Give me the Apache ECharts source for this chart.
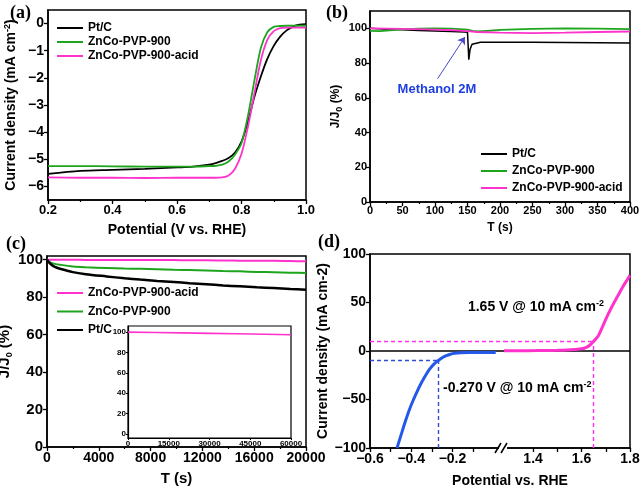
<!DOCTYPE html>
<html><head><meta charset="utf-8">
<script src="https://cdn.jsdelivr.net/npm/echarts@6/dist/echarts.min.js"></script>
<style>html,body{margin:0;padding:0;background:#fff}#c{width:642px;height:491px}</style>
</head><body><div id="c"></div>
<script>
// ---------------- data ----------------
// (a) ORR polarisation curves
const aPotential = [0.2,0.3,0.4,0.5,0.6,0.65,0.7,0.72,0.74,0.76,0.78,0.80,0.82,0.84,0.86,0.88,0.90,0.92,0.94,0.96,0.98,1.0];
const aPtC  = [-5.54,-5.43,-5.39,-5.35,-5.30,-5.27,-5.20,-5.14,-5.06,-4.95,-4.75,-4.35,-3.62,-2.70,-1.95,-1.30,-0.82,-0.48,-0.25,-0.11,-0.04,-0.02];
const aZnCo = [-5.25,-5.25,-5.26,-5.27,-5.27,-5.27,-5.25,-5.24,-5.20,-5.08,-4.82,-4.40,-3.40,-2.10,-0.90,-0.32,-0.12,-0.09,-0.08,-0.08,-0.08,-0.08];
const aAcid = [-5.67,-5.68,-5.68,-5.69,-5.68,-5.68,-5.68,-5.68,-5.67,-5.60,-5.35,-4.80,-3.80,-2.57,-1.35,-0.60,-0.28,-0.17,-0.15,-0.15,-0.15,-0.15];
const aYTicks = [-6,-5,-4,-3,-2,-1,0];

// (b) methanol tolerance
const bTimePt   = [0,25,50,75,100,125,145,150,151,152,154,157,160,170,200,250,300,350,400];
const bPtC      = [100,99.5,99.2,98.8,98.5,98.2,97.9,97.7,90,82,88,90.8,91.6,92,92,92,91.9,91.7,91.5];
const bTimeZn   = [0,15,30,50,75,100,125,150,158,165,180,200,250,300,350,400];
const bZnCo     = [98.6,98.4,98.9,99.4,99.8,100,99.8,99.3,98.5,98.2,98.6,99.1,99.7,100,99.8,99.6];
const bTimeAcid = [0,50,100,130,150,165,200,250,300,350,400];
const bAcid     = [100,99.7,99.3,98.9,98.4,97.9,97.6,97.3,97.5,97.9,98.2];
const bYTicks = [0,20,40,60,80,100];
const bArrow = [[104,71],[146,95]];
const bNote = [103,65];

// (c) chronoamperometric stability
const cTime = [0,100,300,600,1000,2000,3000,4600,6000,7200,8500,9800,11000,12300,13600,14900,16200,17500,18800,20000];
const cPtC  = [100,99,97.6,96.2,95.2,93.4,92.3,91.1,90.1,89.4,88.7,88.1,87.5,86.9,86.3,85.8,85.3,84.9,84.4,84.0];
const cZnCo = [100,99.2,98.5,97.8,97.3,96.4,96.0,95.6,95.3,95.2,94.9,94.6,94.5,94.3,94.0,93.8,93.5,93.3,93.1,92.9];
const cAcid = [100,100,100,100,100,100,99.9,99.9,99.9,99.8,99.8,99.8,99.7,99.7,99.6,99.5,99.4,99.4,99.3,99.2];
const cYTicks = [0,20,40,60,80,100];
// inset (long-term, acid sample)
const insetTime = [0,10000,20000,30000,40000,50000,60000];
const insetAcid = [100,99.6,99.2,98.8,98.4,97.9,97.4];

// (d) HER / OER polarisation
const herPotential = [-0.469,-0.45,-0.43,-0.41,-0.39,-0.37,-0.35,-0.33,-0.31,-0.29,-0.27,-0.25,-0.23,-0.21,-0.19,-0.16,-0.12,-0.06,0.01];
const herCurrent   = [-100,-87,-73.5,-61,-50.5,-41,-32.5,-25,-18.5,-13.5,-10,-7,-4.8,-3.3,-2.4,-1.8,-1.5,-1.5,-1.6];
const oerPotential = [1.28,1.35,1.41,1.45,1.5,1.54,1.57,1.6,1.62,1.635,1.65,1.67,1.69,1.71,1.73,1.75,1.77,1.79,1.8];
const oerCurrent   = [0.2,0.3,0.4,0.5,0.7,1,1.5,2.3,3.8,6.2,10,16,27,38,48,57,66,74,78];
const herMark = [-0.27,-10];
const oerMark = [1.65,10];
const dLeftRange = [-0.6,0.05];
const dRightRange = [1.28,1.8];
const dYTicks = [-100,-50,0,50,100];
const herNotePos = [-0.246,-38];
const oerNotePos = [-0.125,45];

// ---------------- helpers ----------------
const FONT = '"Liberation Sans", Arial, sans-serif';
const BLACK='#000000', GREEN='#1ea51e', PINK='#ff33cc', BLUE='#2458e8';
const PINKDASH='#ff30f0', BLUEDASH='#2f4fd0';
const zip = (xs, ys) => xs.map((x,i)=>[x, ys[i]]);
const fmt1 = v => Number(v).toFixed(1).replace('-', '\u2212');
const fmt0 = v => String(Math.round(v)).replace('-', '\u2212');
const fmtRaw = v => String(Math.round(v));

function merge(a, b){
  const out = Array.isArray(a) ? a.slice() : Object.assign({}, a);
  for (const k in b){
    if (b[k] && typeof b[k]==='object' && !Array.isArray(b[k]) && a && typeof a[k]==='object' && !Array.isArray(a[k])) out[k]=merge(a[k], b[k]);
    else out[k]=b[k];
  }
  return out;
}
function axis(gridIndex, min, max, opts){
  return merge({
    type:'value', gridIndex, min, max, scale:false,
    axisLine:{show:true, onZero:false, lineStyle:{color:'#000', width:1.5}},
    axisTick:{show:true, inside:false, length:4, lineStyle:{color:'#000', width:1.3}},
    minorTick:{show:false},
    axisLabel:{show:true, color:'#000', fontFamily:FONT, fontWeight:'bold', fontSize:13, margin:4, hideOverlap:false, formatter:fmtRaw},
    splitLine:{show:false}, minorSplitLine:{show:false},
    nameLocation:'middle',
    nameTextStyle:{color:'#000', fontFamily:FONT, fontWeight:'bold', fontSize:14}
  }, opts||{});
}
function grid(left, top, width, height, border, bg){
  return {left, top, width, height, containLabel:false, outerBoundsMode:'none',
    show: !!border, borderColor:'#000', borderWidth: border||0, backgroundColor: bg || 'transparent'};
}
function line(name, xi, yi, data, color, width, extra){
  return merge({type:'line', name, xAxisIndex:xi, yAxisIndex:yi, data, symbol:'none', showSymbol:false,
    lineStyle:{color, width}, itemStyle:{color}, emphasis:{disabled:true}, silent:true, animation:false}, extra||{});
}
const supRich = {s:{fontSize:9, fontWeight:'bold', fontFamily:FONT, color:'#000', verticalAlign:'top', lineHeight:9}};
const subRich = {s:{fontSize:9, fontWeight:'bold', fontFamily:FONT, color:'#000', verticalAlign:'bottom', lineHeight:9}};
const panelTitle = (t, left, top) => ({text:t, left, top, padding:0,
  textStyle:{fontFamily:'"Liberation Serif", "DejaVu Serif", serif', fontWeight:'bold', fontSize:18, color:'#000'}});
const legendStyle = {fontFamily:FONT, fontWeight:'bold', fontSize:12, color:'#000'};
const names = ['Pt/C','ZnCo-PVP-900','ZnCo-PVP-900-acid'];
const legendBase = {orient:'vertical', icon:'rect', itemWidth:26, itemHeight:2, selectedMode:false, textStyle:legendStyle, padding:0};
const dashStyle = (color) => ({color, width:1.4, type:[4,3], opacity:1});

const option = {
  animation:false,
  backgroundColor:'#fff',
  title:[
    panelTitle('(a)', 10, 4), panelTitle('(b)', 326, 4), panelTitle('(c)', 6, 235), panelTitle('(d)', 318, 233),
    {text:'Potential vs. RHE', left:510, top:474, textAlign:'center', padding:0,
      textStyle:{fontFamily:FONT, fontWeight:'bold', fontSize:14, color:'#000'}}
  ],
  legend:[
    merge(legendBase, {left:57, top:22, itemGap:2, data:names}),
    merge(legendBase, {left:481, top:148, itemGap:5, data:names}),
    merge(legendBase, {left:57, top:287, itemGap:6.5, data:names.slice().reverse()})
  ],
  grid:[
    grid(48, 10, 258, 190, 1.5),          // a
    grid(370, 11, 260, 191, 1.5),         // b
    grid(47, 256, 259, 191, 1.5),         // c
    grid(128, 326, 163, 112, 1.2, '#fff'),// inset
    grid(370, 254, 134, 194, 0),          // d left segment
    grid(504, 254, 126, 194, 0),          // d right segment
    grid(370, 254, 260, 194, 1.5)         // d outer frame
  ],
  xAxis:[
    axis(0, 0.2, 1.0, {interval:0.2, minorTick:{show:true, splitNumber:2, length:2, lineStyle:{color:'#000',width:1.2}},
      axisLabel:{formatter:fmt1, fontSize:13}, name:'Potential (V vs. RHE)', nameGap:23}),
    axis(1, 0, 400, {interval:50, minorTick:{show:true, splitNumber:2, length:2, lineStyle:{color:'#000',width:1.2}},
      axisLabel:{fontSize:11, margin:3}, name:'T (s)', nameGap:20, nameTextStyle:{fontSize:12}}),
    axis(2, 0, 20000, {interval:4000, minorTick:{show:true, splitNumber:2, length:2, lineStyle:{color:'#000',width:1.2}},
      axisLabel:{fontSize:14}, name:'T (s)', nameGap:24, nameTextStyle:{fontSize:15}}),
    axis(3, 0, 60000, {interval:15000, axisLine:{lineStyle:{width:1.2}}, axisTick:{length:2, lineStyle:{width:1}},
      axisLabel:{fontSize:8, margin:2}}),
    axis(4, dLeftRange[0], dLeftRange[1], {axisLabel:{customValues:[-0.6,-0.4,-0.2], formatter:fmt1, fontSize:14},
      axisTick:{customValues:[-0.6,-0.5,-0.4,-0.3,-0.2,-0.1]}}),
    axis(5, dRightRange[0], dRightRange[1], {axisLabel:{customValues:[1.4,1.6,1.8], formatter:fmt1, fontSize:14},
      axisTick:{customValues:[1.4,1.5,1.6,1.7,1.8]}}),
    {type:'value', gridIndex:6, min:0, max:1, show:false}
  ],
  yAxis:[
    axis(0, -6.5, 0.5, {axisLabel:{customValues:aYTicks, formatter:fmt0, fontSize:14}, axisTick:{customValues:aYTicks},
      name:'Current density (mA cm{s|-2})', nameGap:29, nameTextStyle:{fontSize:14, lineHeight:16, rich:supRich}}),
    axis(1, 0, 110, {axisLabel:{customValues:bYTicks, fontSize:11, margin:3}, axisTick:{customValues:bYTicks},
      name:'J/J{s|0} (%)', nameGap:26, nameTextStyle:{fontSize:12, lineHeight:16, rich:subRich}}),
    axis(2, 0, 102, {axisLabel:{customValues:cYTicks, fontSize:15}, axisTick:{customValues:cYTicks},
      name:'J/J{s|0} (%)', nameGap:19, nameTextStyle:{fontSize:15, lineHeight:18, rich:subRich}}),
    axis(3, -4, 106, {axisLabel:{customValues:cYTicks, fontSize:8, margin:2}, axisTick:{customValues:cYTicks, length:2, lineStyle:{width:1}},
      axisLine:{lineStyle:{width:1.2}}}),
    axis(4, -100, 100, {axisLabel:{customValues:dYTicks, formatter:fmt0, fontSize:14}, axisTick:{customValues:dYTicks},
      name:'Current density (mA cm-2)', nameGap:34, nameTextStyle:{fontSize:14}}),
    axis(5, -100, 100, {axisLine:{show:false}, axisLabel:{show:false}, axisTick:{show:false}}),
    {type:'value', gridIndex:6, min:0, max:1, show:false}
  ],
  series:[
    // (a)
    line('Pt/C', 0, 0, zip(aPotential, aPtC), BLACK, 1.8, {smooth:0.3}),
    line('ZnCo-PVP-900', 0, 0, zip(aPotential, aZnCo), GREEN, 1.8, {smooth:0.3}),
    line('ZnCo-PVP-900-acid', 0, 0, zip(aPotential, aAcid), PINK, 1.8, {smooth:0.3}),
    // (b)
    line('Pt/C', 1, 1, zip(bTimePt, bPtC), BLACK, 1.5, {
      markLine:{silent:true, symbol:['none','arrow'], symbolSize:7, label:{show:false},
        lineStyle:{color:'#4646cc', width:1, type:'solid'}, data:[[{coord:bArrow[0]},{coord:bArrow[1]}]]},
      markPoint:{silent:true, symbol:'circle', symbolSize:0, itemStyle:{color:'transparent'},
        label:{show:true, position:'inside', formatter:'Methanol 2M', fontFamily:FONT, fontWeight:'bold', fontSize:13, color:'#1e3ee0'},
        data:[{coord:bNote}]}
    }),
    line('ZnCo-PVP-900', 1, 1, zip(bTimeZn, bZnCo), GREEN, 1.8),
    line('ZnCo-PVP-900-acid', 1, 1, zip(bTimeAcid, bAcid), PINK, 1.8),
    // (c)
    line('ZnCo-PVP-900-acid', 2, 2, zip(cTime, cAcid), PINK, 2, {smooth:0.3}),
    line('ZnCo-PVP-900', 2, 2, zip(cTime, cZnCo), GREEN, 2, {smooth:0.3}),
    line('Pt/C', 2, 2, zip(cTime, cPtC), BLACK, 2.5, {smooth:0.3}),
    // inset
    line('inset', 3, 3, zip(insetTime, insetAcid), PINK, 1.6),
    // (d) HER (left segment)
    line('HER', 4, 4, zip(herPotential, herCurrent), BLUE, 3, {smooth:0.3, z:5,
      markLine:{silent:true, symbol:'none', label:{show:false}, lineStyle:dashStyle(BLUEDASH),
        data:[
          {yAxis:0, lineStyle:{color:'#000', width:1.5, type:'solid'}},
          [{coord:[dLeftRange[0], herMark[1]]}, {coord:herMark}],
          [{coord:[herMark[0], -100]}, {coord:herMark}],
          [{coord:[dLeftRange[0], oerMark[1]], lineStyle:dashStyle(PINKDASH)}, {coord:[dLeftRange[1], oerMark[1]], lineStyle:dashStyle(PINKDASH)}]
        ]},
      markPoint:{silent:true, symbol:'circle', symbolSize:0, itemStyle:{color:'transparent'},
        label:{show:true, position:'right', distance:0, fontFamily:FONT, fontWeight:'bold', fontSize:14, color:'#000', lineHeight:16, rich:supRich},
        data:[
          {coord:herNotePos, label:{formatter:'-0.270 V @ 10 mA cm{s|-2}'}},
          {coord:oerNotePos, label:{formatter:'1.65 V @ 10 mA cm{s|-2}'}}
        ]}
    }),
    // (d) OER (right segment)
    line('OER', 5, 5, zip(oerPotential, oerCurrent), PINK, 3, {smooth:0.3, z:5,
      markLine:{silent:true, symbol:'none', label:{show:false}, lineStyle:dashStyle(PINKDASH),
        data:[
          {yAxis:0, lineStyle:{color:'#000', width:1.5, type:'solid'}},
          [{coord:[dRightRange[0], oerMark[1]]}, {coord:oerMark}],
          [{coord:[oerMark[0], -100]}, {coord:oerMark}]
        ]}
    })
  ],
  graphic:[
    // axis break marker on panel (d)
    {type:'rect', shape:{x:499, y:445, width:8, height:6}, style:{fill:'#fff'}, z:100},
    {type:'line', shape:{x1:495, y1:453, x2:501, y2:443}, style:{stroke:'#000', lineWidth:1.5}, z:101},
    {type:'line', shape:{x1:501, y1:453, x2:507, y2:443}, style:{stroke:'#000', lineWidth:1.5}, z:101}
  ]
};
const chart = echarts.init(document.getElementById('c'), null, {renderer:'canvas'});
chart.setOption(option);
</script></body></html>
